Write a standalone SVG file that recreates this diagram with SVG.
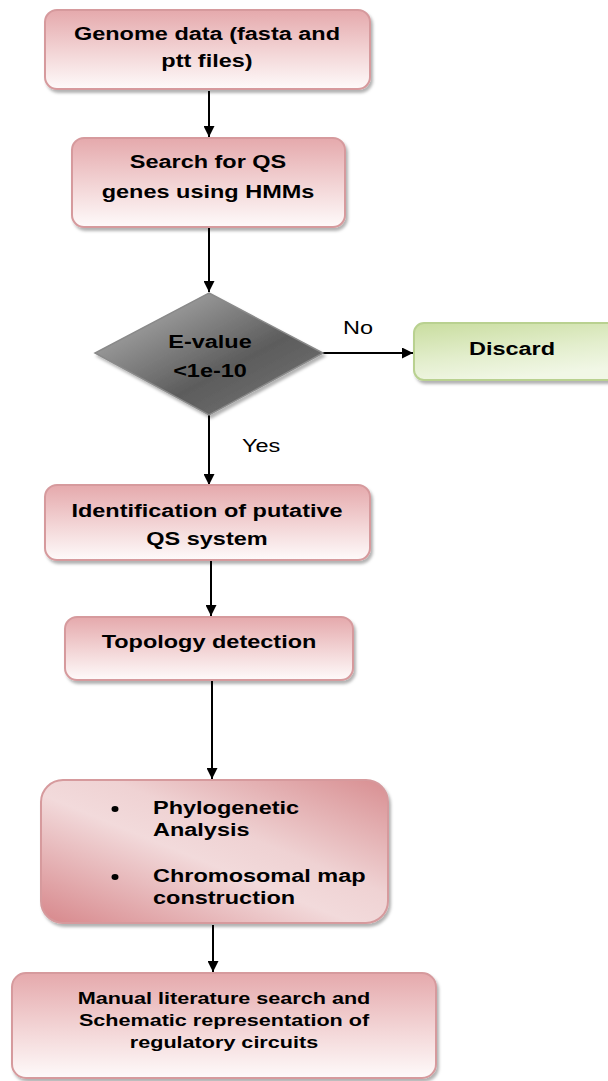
<svg xmlns="http://www.w3.org/2000/svg" width="608" height="1081" viewBox="0 0 608 1081">
  <defs>
    <linearGradient id="pinkFill" x1="0" y1="0" x2="0" y2="1">
      <stop offset="0" stop-color="#e5a9ac"/>
      <stop offset="0.55" stop-color="#f3d6d7"/>
      <stop offset="1" stop-color="#fefafa"/>
    </linearGradient>
    <linearGradient id="pinkDiag" x1="0" y1="1" x2="1" y2="0">
      <stop offset="0" stop-color="#d7878b"/>
      <stop offset="0.45" stop-color="#f2dadb"/>
      <stop offset="0.6" stop-color="#efd2d3"/>
      <stop offset="1" stop-color="#d88e91"/>
    </linearGradient>
    <linearGradient id="greenFill" x1="0" y1="0" x2="0.4" y2="1">
      <stop offset="0" stop-color="#c9dd9f"/>
      <stop offset="0.6" stop-color="#e3eecd"/>
      <stop offset="1" stop-color="#f1f7e6"/>
    </linearGradient>
    <linearGradient id="grayFill" x1="0" y1="0" x2="1" y2="1">
      <stop offset="0" stop-color="#bdbdbd"/>
      <stop offset="0.6" stop-color="#5c5c5c"/>
      <stop offset="1" stop-color="#7a7a7a"/>
    </linearGradient>
    <filter id="shadow" x="-10%" y="-10%" width="125%" height="130%">
      <feDropShadow dx="2" dy="3" stdDeviation="1.5" flood-color="#000" flood-opacity="0.3"/>
    </filter>
    <marker id="arrow" viewBox="0 0 10 10" refX="10" refY="5" markerWidth="11" markerHeight="11" markerUnits="userSpaceOnUse" orient="auto">
      <path d="M0,0 L10,5 L0,10 z" fill="#000"/>
    </marker>
  </defs>
  <style>
    .box { fill: url(#pinkFill); stroke: #d69a9d; stroke-width: 2; filter: url(#shadow); }
    .label { font-family: "Liberation Sans", Arial, sans-serif; font-weight: bold; font-size: 18.5px; fill: #000; text-anchor: middle; }
    .small { font-size: 17px; }
    .left { text-anchor: start; }
    .plain { font-family: "Liberation Sans", Arial, sans-serif; font-size: 18.5px; fill: #000; }
    .edge { stroke: #000; stroke-width: 2; fill: none; marker-end: url(#arrow); }
  </style>

  <!-- connectors; every label is widened 1.27x around its anchor -->
  <g id="connectors">
    <line class="edge" x1="209" y1="91" x2="209" y2="137"/>
    <line class="edge" x1="209" y1="228" x2="209" y2="292"/>
    <line class="edge" x1="323" y1="353" x2="413" y2="353"/>
    <line class="edge" x1="209" y1="415" x2="209" y2="485"/>
    <line class="edge" x1="211" y1="561" x2="211" y2="616"/>
    <line class="edge" x1="212" y1="681" x2="212" y2="779"/>
    <line class="edge" x1="213" y1="925" x2="213" y2="972"/>
    <g transform="translate(343,0) scale(1.27,1)"><text class="plain" x="0" y="334">No</text></g>
    <g transform="translate(242,0) scale(1.27,1)"><text class="plain" x="0" y="452">Yes</text></g>
  </g>

  <g id="genome-data">
    <rect class="box" x="45" y="10" width="325" height="79" rx="12"/>
    <g transform="translate(207,0) scale(1.27,1)">
      <text class="label" x="0" y="40">Genome data (fasta and</text>
      <text class="label" x="0" y="67">ptt files)</text>
    </g>
  </g>

  <g id="hmm-search">
    <rect class="box" x="72" y="138" width="273" height="89" rx="12"/>
    <g transform="translate(208,0) scale(1.27,1)">
      <text class="label" x="0" y="168">Search for QS</text>
      <text class="label" x="0" y="198">genes using HMMs</text>
    </g>
  </g>

  <g id="evalue-check">
    <polygon points="209,293 323,353 209,415 95,353" fill="url(#grayFill)" stroke="#8a8a8a" stroke-width="1.5" filter="url(#shadow)"/>
    <g transform="translate(210,0) scale(1.27,1)">
      <text class="label" x="0" y="348">E-value</text>
      <text class="label" x="0" y="377">&lt;1e-10</text>
    </g>
  </g>

  <g id="discard">
    <rect x="414" y="323" width="210" height="57" rx="10" fill="url(#greenFill)" stroke="#b9d190" stroke-width="2" filter="url(#shadow)"/>
    <g transform="translate(512,0) scale(1.27,1)">
      <text class="label" x="0" y="355">Discard</text>
    </g>
  </g>

  <g id="putative-qs">
    <rect class="box" x="45" y="485" width="325" height="75" rx="12"/>
    <g transform="translate(207,0) scale(1.27,1)">
      <text class="label" x="0" y="517">Identification of putative</text>
      <text class="label" x="0" y="545">QS system</text>
    </g>
  </g>

  <g id="topology">
    <rect class="box" x="65" y="617" width="288" height="63" rx="12"/>
    <g transform="translate(209,0) scale(1.27,1)">
      <text class="label" x="0" y="648">Topology detection</text>
    </g>
  </g>

  <g id="analysis">
    <rect x="41" y="780" width="347" height="143" rx="22" fill="url(#pinkDiag)" stroke="#d69a9d" stroke-width="2" filter="url(#shadow)"/>
    <ellipse cx="115" cy="809" rx="3.5" ry="3"/>
    <ellipse cx="115" cy="877" rx="3.5" ry="3"/>
    <g transform="translate(153,0) scale(1.27,1)">
      <text class="label left" x="0" y="814">Phylogenetic</text>
      <text class="label left" x="0" y="836">Analysis</text>
      <text class="label left" x="0" y="882">Chromosomal map</text>
      <text class="label left" x="0" y="904">construction</text>
    </g>
  </g>

  <g id="literature">
    <rect class="box" x="12" y="973" width="424" height="105" rx="14"/>
    <g transform="translate(224,0) scale(1.27,1)">
      <text class="label small" x="0" y="1004">Manual literature search and</text>
      <text class="label small" x="0" y="1026">Schematic representation of</text>
      <text class="label small" x="0" y="1048">regulatory circuits</text>
    </g>
  </g>
</svg>
